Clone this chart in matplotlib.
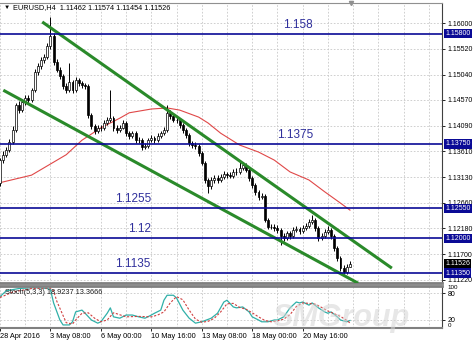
import matplotlib
matplotlib.use('Agg')
import matplotlib.pyplot as plt
import matplotlib.transforms as mtransforms
import numpy as np

plt.rcParams['font.family'] = ['Liberation Sans', 'DejaVu Sans']

# EURUSD H4 candles (bar index 0..111)
closes = [1.1345, 1.1355, 1.1364, 1.1379, 1.1401, 1.1448, 1.1438, 1.1453, 1.1461, 1.1457,
          1.1475, 1.1509, 1.1520, 1.1531, 1.1537, 1.1557, 1.1576, 1.1528, 1.1513, 1.1501,
          1.1483, 1.1475, 1.1490, 1.1475, 1.1494, 1.1488, 1.1485, 1.1483, 1.1429, 1.1408,
          1.1399, 1.1405, 1.1405, 1.1414, 1.1420, 1.1423, 1.1405, 1.1401, 1.1405, 1.1414,
          1.1395, 1.1390, 1.1395, 1.1382, 1.1382, 1.1369, 1.1371, 1.1382, 1.1386, 1.1382,
          1.1390, 1.1395, 1.1401, 1.1433, 1.1427, 1.1420, 1.1420, 1.1410, 1.1401, 1.1392,
          1.1377, 1.1373, 1.1371, 1.1358, 1.1340, 1.1308, 1.1297, 1.1308, 1.1312, 1.1308,
          1.1314, 1.1319, 1.1317, 1.1316, 1.1323, 1.1323, 1.1330, 1.1336, 1.1327, 1.1312,
          1.1299, 1.1286, 1.1276, 1.1278, 1.1234, 1.1221, 1.1221, 1.1219, 1.1215, 1.1204,
          1.1200, 1.1209, 1.1204, 1.1215, 1.1217, 1.1213, 1.1219, 1.1222, 1.1230, 1.1234,
          1.1219, 1.1200, 1.1204, 1.1211, 1.1215, 1.1204, 1.1181, 1.1163, 1.1144, 1.1137,
          1.1146, 1.11526]
highs = [1.1349, 1.1361, 1.1370, 1.1384, 1.1408, 1.1452, 1.1455, 1.1458, 1.1466, 1.1467,
         1.1480, 1.1514, 1.1526, 1.1537, 1.1543, 1.1562, 1.1612, 1.1581, 1.1533, 1.1518,
         1.1506, 1.1489, 1.1526, 1.1494, 1.1499, 1.1498, 1.1492, 1.1489, 1.1486, 1.1433,
         1.1413, 1.1410, 1.1411, 1.1419, 1.1425, 1.1475, 1.1427, 1.1410, 1.1410, 1.1419,
         1.1418, 1.1399, 1.1400, 1.1399, 1.1388, 1.1386, 1.1377, 1.1387, 1.1391, 1.1390,
         1.1395, 1.1400, 1.1406, 1.1447, 1.1438, 1.1431, 1.1426, 1.1424, 1.1414, 1.1405,
         1.1396, 1.1381, 1.1378, 1.1375, 1.1362, 1.1344, 1.1312, 1.1313, 1.1318, 1.1317,
         1.1320, 1.1325, 1.1323, 1.1322, 1.1328, 1.1330, 1.1345, 1.1342, 1.1340, 1.1331,
         1.1316, 1.1303, 1.1290, 1.1284, 1.1282, 1.1238, 1.1227, 1.1226, 1.1224, 1.1219,
         1.1209, 1.1214, 1.1213, 1.1221, 1.1223, 1.1221, 1.1225, 1.1228, 1.1236, 1.1243,
         1.1238, 1.1223, 1.1210, 1.1216, 1.1223, 1.1219, 1.1208, 1.1185, 1.1167, 1.1149,
         1.1151, 1.11574]
lows = [1.1296, 1.1340, 1.1350, 1.1360, 1.1375, 1.1398, 1.1432, 1.1434, 1.1448, 1.1450,
        1.1453, 1.1472, 1.1504, 1.1515, 1.1526, 1.1533, 1.1552, 1.1522, 1.1508, 1.1495,
        1.1478, 1.1470, 1.1471, 1.1469, 1.1472, 1.1483, 1.1480, 1.1478, 1.1424, 1.1402,
        1.1394, 1.1395, 1.1400, 1.1401, 1.1410, 1.1416, 1.1400, 1.1396, 1.1397, 1.1402,
        1.1390, 1.1384, 1.1386, 1.1377, 1.1376, 1.1364, 1.1365, 1.1368, 1.1378, 1.1377,
        1.1378, 1.1386, 1.1391, 1.1398, 1.1422, 1.1415, 1.1414, 1.1405, 1.1396, 1.1387,
        1.1372, 1.1368, 1.1366, 1.1352, 1.1335, 1.1302, 1.1284, 1.1292, 1.1303, 1.1302,
        1.1304, 1.1310, 1.1311, 1.1311, 1.1312, 1.1318, 1.1319, 1.1326, 1.1322, 1.1307,
        1.1294, 1.1281, 1.1271, 1.1272, 1.1229, 1.1216, 1.1216, 1.1213, 1.1209, 1.1187,
        1.1195, 1.1196, 1.1199, 1.1200, 1.1211, 1.1208, 1.1209, 1.1215, 1.1218, 1.1226,
        1.1214, 1.1195, 1.1196, 1.1200, 1.1207, 1.1199, 1.1176, 1.1158, 1.1139, 1.1133,
        1.1134, 1.11454]
first_open = 1.1302
last_open = 1.11462

# moving average (red) read at a few bars
ma_idx = [0, 10, 21, 26, 32, 38, 41, 48, 53, 57, 63, 66, 70, 76, 82, 87, 92, 98, 103, 108, 111]
ma_val = [1.1303, 1.1317, 1.1355, 1.1382, 1.1405, 1.1423, 1.1433, 1.1440, 1.1442, 1.1438,
          1.1425, 1.1414, 1.1395, 1.1373, 1.1360, 1.1345, 1.1323, 1.1308, 1.1286, 1.1265, 1.1252]

# channel lines (bar index, price)
upper_line = ([13.4, 124.3], [1.1602, 1.1144])
lower_line = ([1.05, 113.6], [1.1475, 1.1116])

# horizontal levels
levels = [1.158, 1.1375, 1.1255, 1.12, 1.1135]
level_text = ['1.158', '1.1375', '1.1255', '1.12', '1.1135']
level_tags = ['1.15800', '1.13750', '1.12550', '1.12000', '1.11350']

price_ticks = [1.16, 1.1552, 1.1504, 1.1457, 1.1409, 1.1361, 1.1313, 1.1266, 1.1218, 1.117, 1.1122]

# stochastic (5,3,3)
st_main_idx = [0, 2, 6, 11, 15, 16, 17, 19, 20, 22, 23, 24, 26, 27, 29, 31, 32, 34, 35, 36,
               38, 40, 42, 44, 46, 48, 49, 51, 52, 53, 55, 56, 58, 60, 62, 64, 67, 69, 71, 72,
               74, 75, 77, 79, 80, 82, 83, 85, 87, 88, 90, 92, 94, 95, 96, 98, 99, 101, 103, 104,
               105, 107, 108, 110, 111]
st_main = [72, 85, 90, 92, 90, 88, 58, 20, 9, 9, 16, 38, 42, 35, 20, 13, 16, 35, 47, 27,
           24, 31, 31, 27, 24, 31, 35, 42, 64, 75, 75, 69, 42, 24, 13, 16, 24, 35, 60, 64,
           49, 47, 49, 38, 27, 20, 16, 16, 20, 20, 27, 47, 60, 58, 60, 53, 58, 47, 38, 35,
           38, 27, 20, 16, 18.9]
st_sig_idx = [0, 4, 10, 16, 17, 18, 20, 21, 23, 24, 26, 28, 30, 32, 34, 36, 37, 40, 44, 48,
              50, 52, 54, 56, 58, 60, 62, 64, 66, 68, 70, 72, 74, 76, 78, 80, 82, 84, 86, 88,
              90, 92, 94, 96, 98, 100, 102, 104, 106, 108, 110, 111]
st_sig = [70, 82, 90, 91, 85, 62, 30, 14, 11, 20, 35, 36, 24, 16, 20, 36, 34, 27, 28, 27,
          31, 38, 58, 72, 65, 42, 22, 15, 17, 24, 38, 56, 57, 48, 44, 36, 27, 19, 16, 18,
          22, 32, 50, 58, 57, 55, 48, 40, 34, 28, 19, 13.4]

date_idx = [0, 16, 32, 48, 64, 80, 96]
date_labels = ['28 Apr 2016', '3 May 08:00', '6 May 00:00', '10 May 16:00',
               '13 May 08:00', '18 May 00:00', '20 May 16:00']

W, H = 474, 341
fig = plt.figure(figsize=(W / 100, H / 100), dpi=100)
ax = fig.add_axes([0, 1 - 283 / H, 442 / W, 280 / H])
ax2 = fig.add_axes([0, 1 - 328 / H, 442 / W, 42 / H], sharex=ax)

x = np.arange(len(closes))
opens = [first_open] + closes[:-1]
opens[-1] = last_open
opens = np.array(opens)
c = np.array(closes)

grid_kw = dict(color='#c8c8c8', linestyle=(0, (2, 2)), linewidth=0.6)

# faint watermark behind the stochastic pane
fig.text(0.575, 0.045, 'SMGroup', fontsize=22, fontstyle='italic', fontweight='bold',
         color='#d4d4d4', alpha=0.55, ha='left', va='baseline', zorder=0)

# candles
ax.vlines(x, lows, highs, color='black', linewidth=0.7, zorder=3)
up = c >= opens
ax.bar(x[up], np.maximum(c[up] - opens[up], 0.00004), bottom=opens[up], width=0.62,
       color='white', edgecolor='black', linewidth=0.5, zorder=4)
ax.bar(x[~up], opens[~up] - c[~up], bottom=c[~up], width=0.62,
       color='black', edgecolor='black', linewidth=0.5, zorder=4)

ax.plot(ma_idx, ma_val, color='#e04848', linewidth=0.8, zorder=2)

ax.plot(*upper_line, color='#2a8a2a', linewidth=2.2, solid_capstyle='butt', zorder=5)
ax.plot(*lower_line, color='#2a8a2a', linewidth=2.2, solid_capstyle='butt', zorder=5)

label_x = [89.8, 87.9, 36.5, 40.7, 36.5]
trans_r = mtransforms.blended_transform_factory(ax.transAxes, ax.transData)
for lv, txt, tag, lx in zip(levels, level_text, level_tags, label_x):
    ax.axhline(lv, color='#0a0a96', linewidth=1.2, zorder=6)
    ax.annotate(txt, xy=(lx, lv), xytext=(0, 2.2), textcoords='offset points',
                ha='left', va='bottom', fontsize=8.5, color='#2f2f9c', zorder=7)
    ax.text(1.008, lv, tag, transform=trans_r, fontsize=5, color='white', va='center',
            ha='left', clip_on=False, zorder=10,
            bbox=dict(boxstyle='square,pad=0.15', fc='#0a0a96', ec='none'))
ax.text(1.008, closes[-1], '%.5f' % closes[-1], transform=trans_r, fontsize=5,
        color='white', va='center', ha='left', clip_on=False, zorder=10,
        bbox=dict(boxstyle='square,pad=0.15', fc='black', ec='none'))

ax.set_xlim(0.1, 140.2)
ax.set_ylim(1.11164, 1.16372)
ax.yaxis.tick_right()
ax.set_yticks(price_ticks)
ax.set_yticklabels(['%.5f' % t for t in price_ticks])
ax.tick_params(axis='y', labelsize=5, length=2.5, width=0.6, pad=1.5)
ax.set_xticks(date_idx)
ax.set_xticks(np.arange(8, 141, 8), minor=True)
ax.tick_params(axis='x', which='both', bottom=False, labelbottom=False)
ax.grid(True, which='both', axis='x', **grid_kw)
ax.grid(True, axis='y', **grid_kw)
ax.set_axisbelow(True)
ax.spines['left'].set_visible(False)
ax.spines['top'].set_color('#909090')
ax.spines['right'].set_color('#404040')
ax.spines['bottom'].set_color('#808080')
ax.spines['bottom'].set_linewidth(2)

ax.text(0.008, 0.984, '\u25bc', transform=ax.transAxes, fontsize=4.5, va='center', ha='left')
ax.text(0.03, 0.984, 'EURUSD,H4  1.11462 1.11574 1.11454 1.11526', transform=ax.transAxes,
        fontsize=5.3, va='center', ha='left')
ax.plot([111.3], [1], marker='v', color='#909090', markersize=3,
        transform=mtransforms.blended_transform_factory(ax.transData, ax.transAxes),
        clip_on=False)

# stochastic pane
ax2.patch.set_alpha(0)
ax2.plot(st_main_idx, st_main, color='#30b0a8', linewidth=0.9)
ax2.plot(st_sig_idx, st_sig, color='#d04040', linewidth=0.8, linestyle=(0, (2, 1.5)))
ax2.set_ylim(2.2, 95.6)
ax2.yaxis.tick_right()
ax2.set_yticks([20, 80])
ax2.set_yticklabels(['20', '80'])
ax2.tick_params(axis='y', labelsize=5, length=2.5, width=0.6, pad=1.5)
ax2.text(1.012, 0.97, '100', transform=ax2.transAxes, fontsize=4.5, va='center', clip_on=False)
ax2.text(1.012, 0.05, '0', transform=ax2.transAxes, fontsize=4.5, va='center', clip_on=False)
ax2.set_xticks(date_idx)
ax2.set_xticklabels(date_labels, ha='left')
ax2.set_xticks(np.arange(8, 141, 8), minor=True)
ax2.tick_params(axis='x', which='major', labelsize=5.3, length=2, width=0.6, pad=1.5)
ax2.tick_params(axis='x', which='minor', length=0)
ax2.grid(True, which='both', axis='x', **grid_kw)
ax2.grid(True, axis='y', **grid_kw)
ax2.spines['left'].set_visible(False)
ax2.spines['top'].set_color('#808080')
ax2.spines['top'].set_linewidth(2)
ax2.spines['bottom'].set_color('#808080')
ax2.spines['bottom'].set_linewidth(1.5)
ax2.spines['right'].set_color('#404040')
ax2.text(0.012, 0.84, 'Stoch(5,3,3) 18.9237 13.3666', transform=ax2.transAxes,
         fontsize=5.3, va='center', ha='left', color='#202020')

fig.savefig('out.png', dpi=100)
